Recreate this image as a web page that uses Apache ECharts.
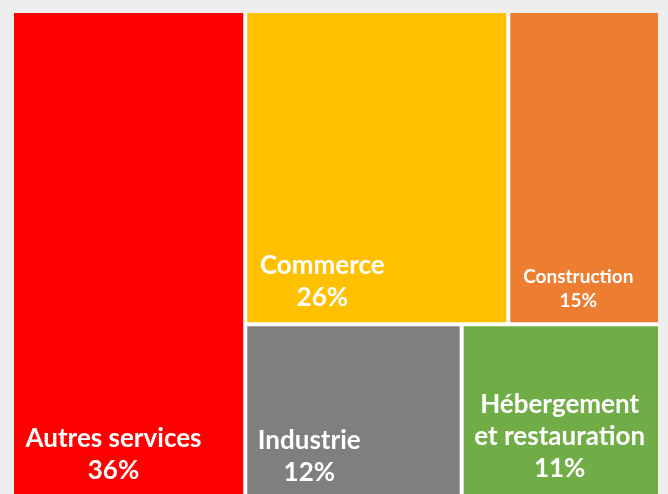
<!DOCTYPE html>
<html>
<head>
    <meta charset="utf-8">
    <title>Répartition par secteur</title>
    <style>
        html, body {
            margin: 0;
            padding: 0;
            background: #eeeeee;
        }
        #chart {
            width: 668px;
            height: 494px;
        }
    </style>
</head>
<body>
<div id="chart"></div>
<script src="https://cdn.jsdelivr.net/npm/echarts@6/dist/echarts.min.js"></script>
<script>
    // données
    var secteurs = ['Autres services', 'Commerce', 'Construction', 'Industrie', 'Hébergement\net restauration'];
    var parts = [36, 26, 15, 12, 11];
    var couleurs = ['#ff0000', '#ffc000', '#ed7d31', '#7f7f7f', '#70ad47'];

    // style des étiquettes (marges en px depuis le coin bas-gauche de chaque case)
    var tailles = [26, 26, 19, 26, 26];
    var margeGauche = [11, 12, 12, 10, 10];
    var margeBas = [11, 8, 9, 9, 13];

    var police = 'Lato';
    var myChart = echarts.init(document.getElementById('chart'));
    var ctx = document.createElement('canvas').getContext('2d');

    function interligne(t) {
        return Math.round(t * 1.24);
    }

    function texte(i) {
        return secteurs[i] + '\n' + parts[i] + '%';
    }

    // une feuille du treemap
    function feuille(i, pad) {
        var t = tailles[i];
        var st = {fontSize: t, lineHeight: interligne(t), align: 'center', color: '#fff', fontWeight: 'bold', fontFamily: police};
        return {
            name: secteurs[i],
            value: parts[i],
            itemStyle: {color: couleurs[i]},
            label: {
                padding: pad ? pad[i] : 0,
                rich: {n: st, v: st}
            }
        };
    }

    function construire(pad) {
        // regroupements pour obtenir la même disposition que l'original
        var donnees = [
            feuille(0, pad),
            {
                name: '',
                children: [
                    {name: '', children: [feuille(1, pad), feuille(2, pad)]},
                    {name: '', children: [feuille(3, pad), feuille(4, pad)]}
                ]
            }
        ];
        return {
            animation: false,
            series: [{
                type: 'treemap',
                left: 14,
                top: 13,
                width: 644,
                height: 485,
                sort: false,
                squareRatio: 0.5,
                roam: false,
                nodeClick: false,
                breadcrumb: {show: false},
                itemStyle: {
                    borderWidth: 0,
                    gapWidth: 4,
                    borderColor: '#ffffff'
                },
                label: {
                    show: true,
                    position: 'insideTopLeft',
                    distance: 0,
                    overflow: 'none',
                    formatter: function (p) {
                        return '{n|' + p.name + '}\n{v|' + p.value + '%}';
                    }
                },
                upperLabel: {show: false},
                data: donnees
            }]
        };
    }

    myChart.setOption(construire(null));

    // place chaque bloc de texte en bas à gauche de sa case
    var tailleCase = {};
    var serie = myChart.getModel().getSeriesByIndex(0);
    (function parcourir(n) {
        if (!n.children || !n.children.length) {
            var l = n.getLayout();
            if (l) tailleCase[n.name] = l;
            return;
        }
        n.children.forEach(parcourir);
    })(serie.getData().tree.root);

    var pad = secteurs.map(function (s, i) {
        var l = tailleCase[s];
        if (!l) return 0;
        var t = tailles[i];
        ctx.font = 'bold ' + t + 'px ' + police;
        var lignes = texte(i).split('\n');
        var large = 0;
        lignes.forEach(function (x) {
            large = Math.max(large, ctx.measureText(x).width);
        });
        var haut = lignes.length * interligne(t);
        var droite = Math.max(0, l.width - margeGauche[i] - Math.ceil(large) - 1);
        var dessus = Math.max(0, Math.floor(l.height - margeBas[i] - haut));
        return [dessus, droite, 0, margeGauche[i]];
    });

    myChart.setOption(construire(pad), true);
</script>
</body>
</html>
